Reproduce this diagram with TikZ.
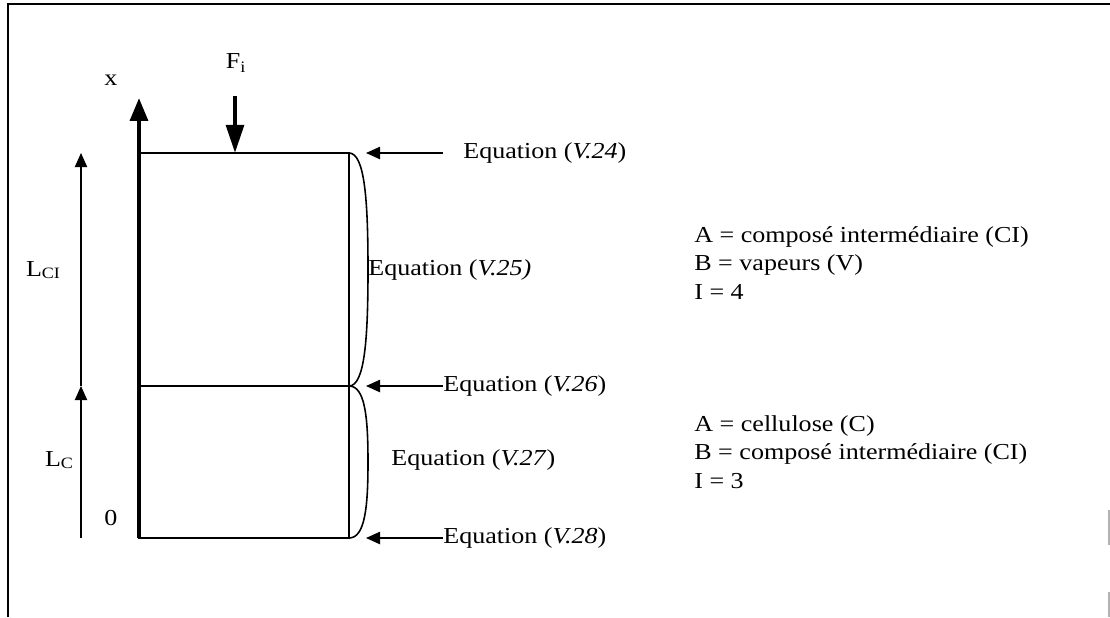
\documentclass[tikz,border=0pt]{standalone}
\usepackage{fontspec}
\setmainfont{Liberation Serif}[FakeStretch=1.14]
\usepackage{tikz}
\usetikzlibrary{arrows.meta,positioning}

\begin{document}
\begin{tikzpicture}[
        font=\fontsize{13}{16.3}\selectfont,
        lbl/.style={inner sep=0pt},
        eqlbl/.style={inner sep=0pt, anchor=west},
        wall/.style={line width=1.1pt},
        axis/.style={line width=2.4pt, -{Triangle[length=13pt,width=10pt]}},
        feed/.style={line width=2.4pt, -{Triangle[length=16pt,width=10pt]}},
        span/.style={line width=0.6pt, -{Triangle[length=8pt,width=7pt]}},
        eqarrow/.style={line width=0.9pt, -{Triangle[length=8pt,width=7pt]}, shorten >=0.34cm},
        brace/.style={line width=0.9pt}
    ]
    \useasboundingbox (0,0) rectangle (22.2,12.34);

    % Frame
    \draw[line width=1pt] (0.16,0) -- (0.16,12.26) -- (22.2,12.26);
    \draw[gray!60, line width=0.6pt] (22.18,2.14) -- (22.18,1.44);
    \draw[gray!60, line width=0.6pt] (22.18,0.5) -- (22.18,0);

    % Reactor corners
    \coordinate (bl) at (2.78,1.58);
    \coordinate (br) at (6.98,1.58);
    \coordinate (ml) at (2.78,4.62);
    \coordinate (mr) at (6.98,4.62);
    \coordinate (tl) at (2.78,9.28);
    \coordinate (tr) at (6.98,9.28);
    \coordinate (axtip) at (2.78,10.38);

    % Reactor
    \draw[wall] (bl) rectangle (tr);
    \draw[wall] (ml) -- (mr);
    \draw[axis] (bl) -- (axtip);

    % Feed
    \node[lbl] (fi) at (4.72,11.08) {F\textsubscript{i}};
    \coordinate (ftop) at (4.7,10.42);
    \coordinate (fin) at (4.7,9.28);
    \draw[feed] (ftop) -- (fin);

    % Axis labels
    \node[lbl] (xlab) at (2.22,10.74) {x};
    \node[lbl] (zero) at (2.22,1.98) {0};

    % Zone lengths
    \coordinate (s0) at (1.62,1.58);
    \coordinate (s1) at (1.62,4.62);
    \coordinate (s2) at (1.62,9.28);
    \draw[span] (s0) -- (s1);
    \draw[span] (s1) -- (s2);
    \node[lbl] (lci) at (0.86,6.94) {L\raisebox{-0.15ex}{\small CI}};
    \node[lbl] (lc) at (1.18,3.14) {L\raisebox{-0.25ex}{\small C}};

    % Braces
    \draw[brace] (tr) .. controls (7.3,9.28) and (7.36,8.3) .. (7.36,6.95)
        .. controls (7.36,5.6) and (7.3,4.62) .. (mr);
    \draw[brace] (mr) .. controls (7.3,4.62) and (7.36,4.0) .. (7.36,3.1)
        .. controls (7.36,2.2) and (7.3,1.58) .. (br);

    % Equations
    \node[eqlbl] (eq24) at (9.26,9.28) {Equation (\textit{V.24})};
    \node[eqlbl] (eq25) at (7.36,6.94) {Equation (\textit{V.25)}};
    \node[eqlbl] (eq26) at (8.86,4.62) {Equation (\textit{V.26})};
    \node[eqlbl] (eq27) at (7.82,3.14) {Equation (\textit{V.27})};
    \node[eqlbl] (eq28) at (8.86,1.58) {Equation (\textit{V.28})};

    \coordinate (t24) at (8.86,9.28);
    \draw[eqarrow] (t24) -- (tr);
    \draw[eqarrow] (eq26.west) -- (mr);
    \draw[eqarrow] (eq28.west) -- (br);

    % Zone data
    \node[eqlbl, align=left] (zoneci) at (13.88,7.08)
        {A = composé intermédiaire (CI)\\B = vapeurs (V)\\I = 4};
    \node[eqlbl, align=left] (zonec) at (13.88,3.3)
        {A = cellulose (C)\\B = composé intermédiaire (CI)\\I = 3};

\end{tikzpicture}
\end{document}
